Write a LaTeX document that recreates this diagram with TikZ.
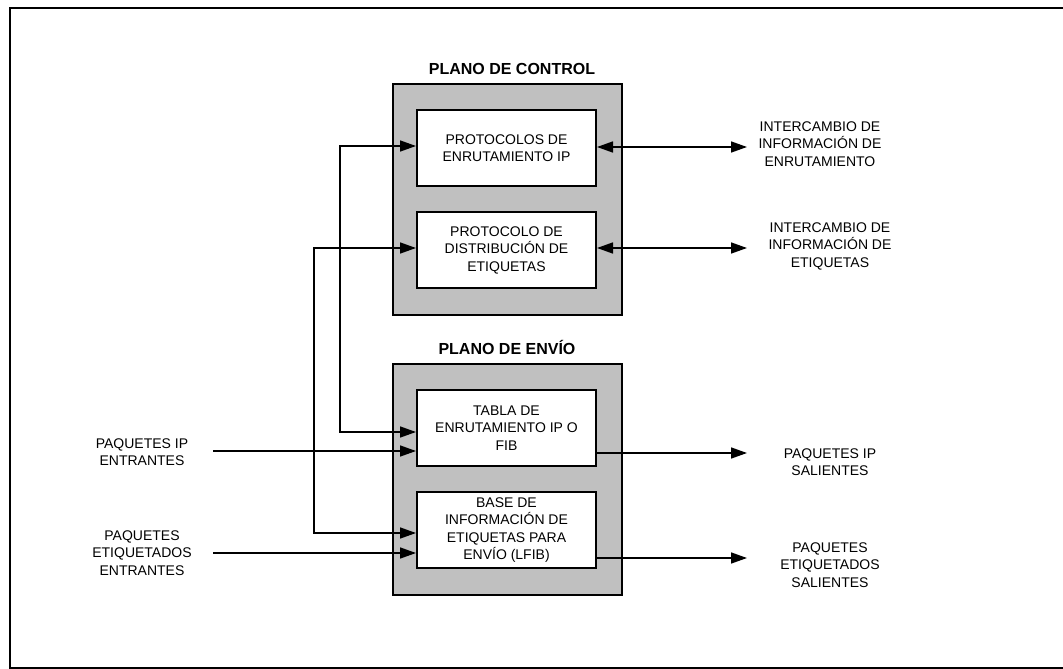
\documentclass[tikz,border=0pt]{standalone}
\usepackage{fontspec}
\setmainfont{Liberation Sans}
\usetikzlibrary{arrows.meta}
\definecolor{planegray}{RGB}{192,192,192}

\begin{document}
\begin{tikzpicture}[x=1pt,y=-1pt,
  every node/.style={font=\fontsize{14}{17.5}\selectfont,align=center,inner sep=0pt},
  plane/.style={draw,line width=2pt,fill=planegray,minimum width=229pt,minimum height=231pt},
  func/.style={draw,line width=2pt,fill=white,minimum width=179pt,minimum height=76pt},
  title/.style={font=\fontsize{16}{19}\selectfont\bfseries},
  conn/.style={line width=1.5pt},
  >={Triangle[length=16pt,width=11pt]}]
\useasboundingbox (0,0) rectangle (1063,669);
\draw[line width=2.5pt] (10,8) rectangle (1075,668);
% planos
\node[plane] (ctrl) at (507.5,199.5) {};
\node[plane] (fwd) at (507.5,479.5) {};
\node[title] (ctrl-t) at (512,69) {PLANO DE CONTROL};
\node[title] (fwd-t) at (507,347) {PLANO DE ENVÍO};
\node[func] (rip) at (506.5,148) {PROTOCOLOS DE\\ENRUTAMIENTO IP};
\node[func] (ldp) at (506.5,250) {PROTOCOLO DE\\DISTRIBUCIÓN DE\\ETIQUETAS};
\node[func] (fib) at (506.5,428) {TABLA DE\\ENRUTAMIENTO IP O\\FIB};
\node[func] (lfib) at (506.5,530) {BASE DE\\INFORMACIÓN DE\\ETIQUETAS PARA\\ENVÍO (LFIB)};
% etiquetas externas
\node (ip-in) at (142,452) {PAQUETES IP\\ENTRANTES};
\node (lbl-in) at (142,553) {PAQUETES\\ETIQUETADOS\\ENTRANTES};
\node (rt-x) at (820,144) {INTERCAMBIO DE\\INFORMACIÓN DE\\ENRUTAMIENTO};
\node (lbl-x) at (830,246) {INTERCAMBIO DE\\INFORMACIÓN DE\\ETIQUETAS};
\node (ip-out) at (830,462) {PAQUETES IP\\SALIENTES};
\node (lbl-out) at (830,565) {PAQUETES\\ETIQUETADOS\\SALIENTES};
\coordinate (ip-in-e) at (213,451);
\coordinate (lbl-in-e) at (213,553);
\coordinate (rt-x-w) at (747,147);
\coordinate (lbl-x-w) at (747,248);
\coordinate (ip-out-w) at (747,453);
\coordinate (lbl-out-w) at (747,558);
% conexiones
\draw[conn,<->] ([yshift=2pt]rip.west) -- ++(-76,0) |- ([yshift=-4pt]fib.west);
\draw[conn,<->] ([yshift=2pt]ldp.west) -- ++(-102,0) |- ([yshift=-3pt]lfib.west);
\draw[conn,->] (ip-in-e) -- (ip-in-e -| fib.west);
\draw[conn,->] (lbl-in-e) -- (lbl-in-e -| lfib.west);
\draw[conn,<->] (rip.east |- rt-x-w) -- (rt-x-w);
\draw[conn,<->] (ldp.east |- lbl-x-w) -- (lbl-x-w);
\draw[conn,->] (fib.east |- ip-out-w) -- (ip-out-w);
\draw[conn,->] (lfib.east |- lbl-out-w) -- (lbl-out-w);
\end{tikzpicture}
\end{document}
